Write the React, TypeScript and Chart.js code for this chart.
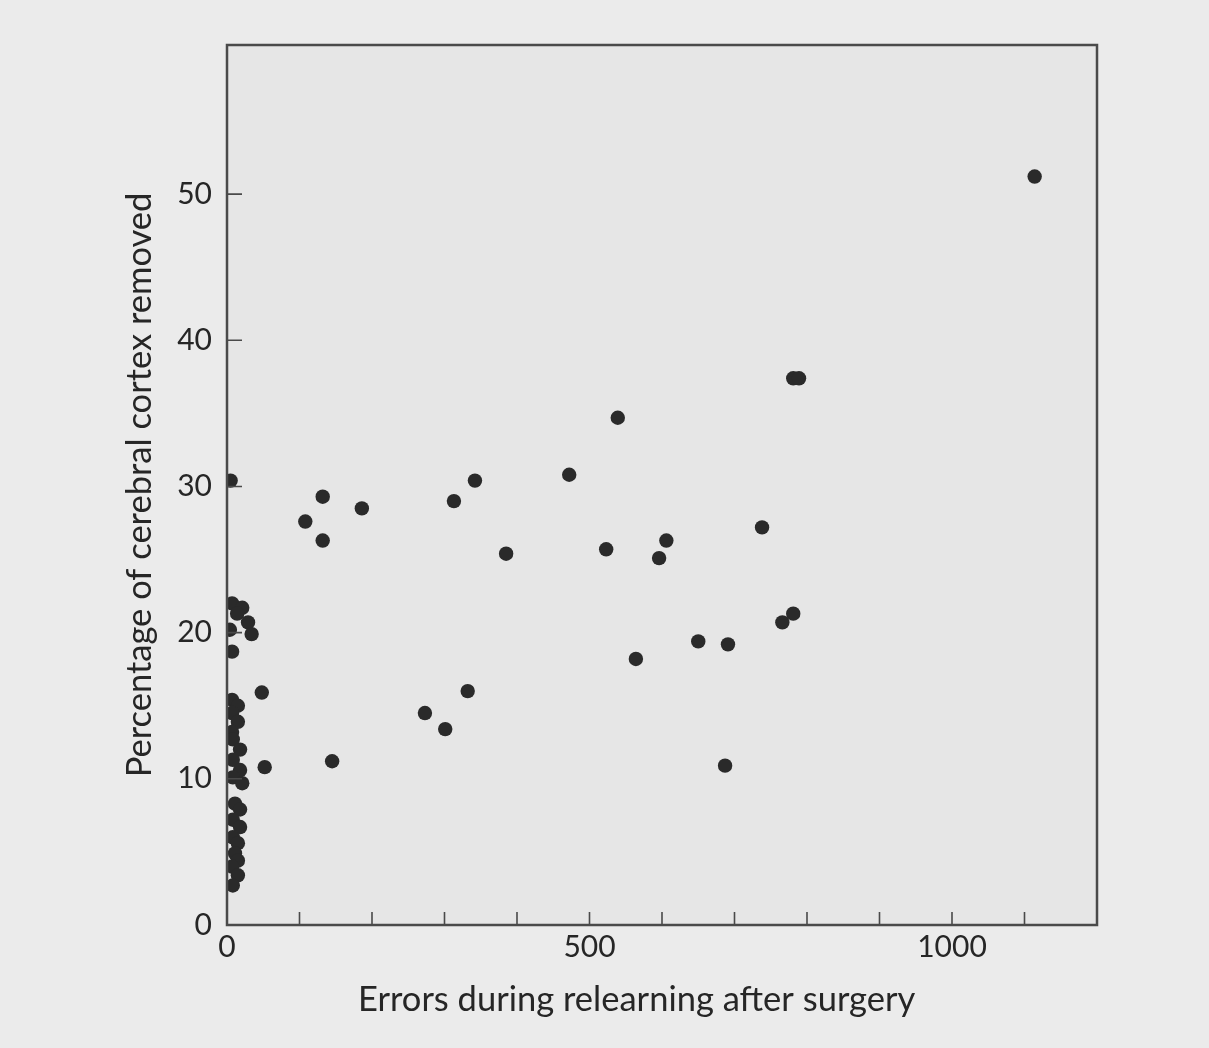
import React, { useEffect, useRef } from "react";
import { Chart, registerables } from "chart.js";

Chart.register(...registerables);

// Errors during relearning after surgery (x) and % of cortex removed (y)
const ERRORS: number[] = [
  7, 21, 14, 29, 34, 4, 7, 7, 15, 7, 15, 7, 8, 18, 8, 18, 8, 21, 11, 18, 8, 18, 8, 15, 11, 15, 7, 15, 8, 5,
  48, 52, 108, 132, 132, 145, 186, 273, 301, 313, 332, 342, 385, 472, 523, 539, 564, 596, 606, 650, 687, 691,
  738, 766, 781, 781, 789, 1114,
];
const PERCENT_REMOVED: number[] = [
  22.0, 21.7, 21.3, 20.7, 19.9, 20.2, 18.7, 15.4, 15.0, 14.5, 13.9, 13.2, 12.7, 12.0, 11.3, 10.6, 10.1, 9.7,
  8.3, 7.9, 7.2, 6.7, 6.0, 5.6, 4.9, 4.4, 4.0, 3.4, 2.7, 30.4,
  15.9, 10.8, 27.6, 29.3, 26.3, 11.2, 28.5, 14.5, 13.4, 29.0, 16.0, 30.4, 25.4, 30.8, 25.7, 34.7, 18.2, 25.1,
  26.3, 19.4, 10.9, 19.2, 27.2, 20.7, 21.3, 37.4, 37.4, 51.2,
];

const X_MIN = 0;
const X_MAX = 1200;
const Y_MIN = 0;
const Y_MAX = 60.2;
const X_LABEL_TICKS = [0, 500, 1000];
const X_MARK_TICKS = [100, 200, 300, 400, 500, 600, 700, 800, 900, 1000, 1100];
const Y_LABEL_TICKS = [0, 10, 20, 30, 40, 50];
const Y_MARK_TICKS = [10, 20, 30, 40, 50];

const X_TITLE = "Errors during relearning after surgery";
const Y_TITLE = "Percentage of cerebral cortex removed";

const FONT = "Lato, 'Open Sans', sans-serif";
const INK = "#262626";
const TITLE_SIZE = 34.5;

const boxPlugin = {
  id: "boxAndTicks",
  beforeDraw(chart: any) {
    const { ctx, chartArea } = chart;
    ctx.save();
    ctx.fillStyle = "#e6e6e6";
    ctx.fillRect(chartArea.left, chartArea.top, chartArea.right - chartArea.left, chartArea.bottom - chartArea.top);
    ctx.restore();
  },
  afterDatasetsDraw(chart: any) {
    const { ctx, chartArea, scales } = chart;
    const { left, right, top, bottom } = chartArea;
    ctx.save();
    ctx.strokeStyle = "#4a4a4a";
    ctx.lineWidth = 1.6;
    ctx.beginPath();
    for (const v of X_MARK_TICKS) {
      const px = scales.x.getPixelForValue(v);
      ctx.moveTo(px, bottom);
      ctx.lineTo(px, bottom - 13);
    }
    for (const v of Y_MARK_TICKS) {
      const py = scales.y.getPixelForValue(v);
      ctx.moveTo(left, py);
      ctx.lineTo(left + 15, py);
    }
    ctx.stroke();
    ctx.lineWidth = 2.5;
    ctx.strokeRect(left, top, right - left, bottom - top);
    ctx.restore();
  },
  afterDraw(chart: any) {
    const { ctx, scales } = chart;
    ctx.save();
    ctx.fillStyle = INK;
    ctx.font = `${TITLE_SIZE}px ${FONT}`;
    ctx.textAlign = "center";
    ctx.textBaseline = "middle";
    ctx.fillText(X_TITLE, scales.x.getPixelForValue(565), 1000);
    ctx.restore();
  },
};

export default function App() {
  const ref = useRef<HTMLCanvasElement | null>(null);

  useEffect(() => {
    if (!ref.current) return;
    const points = ERRORS.map((x, i) => ({ x, y: PERCENT_REMOVED[i] }));
    const chart = new Chart(ref.current, {
      type: "scatter",
      data: {
        datasets: [
          {
            data: points,
            backgroundColor: "#2a2a2a",
            borderColor: "#2a2a2a",
            borderWidth: 0,
            pointRadius: 7.2,
            pointHoverRadius: 7.2,
          },
        ],
      },
      plugins: [boxPlugin],
      options: {
        animation: false,
        responsive: true,
        maintainAspectRatio: false,
        layout: { padding: { left: 0, right: 112, top: 45, bottom: 0 } },
        plugins: { legend: { display: false }, tooltip: { enabled: false } },
        scales: {
          x: {
            type: "linear",
            min: X_MIN,
            max: X_MAX,
            afterFit: (s: any) => {
              s.height = 123;
            },
            afterBuildTicks: (s: any) => {
              s.ticks = X_LABEL_TICKS.map((value) => ({ value }));
            },
            grid: { display: false, drawTicks: false },
            border: { display: false },
            ticks: {
              padding: 4,
              color: INK,
              font: { family: FONT, size: 30 },
              callback: (v: any) => String(v),
            },
            title: { display: false, text: X_TITLE },
          },
          y: {
            type: "linear",
            min: Y_MIN,
            max: Y_MAX,
            afterFit: (s: any) => {
              s.width = 227;
            },
            afterBuildTicks: (s: any) => {
              s.ticks = Y_LABEL_TICKS.map((value) => ({ value }));
            },
            grid: { display: false, drawTicks: false },
            border: { display: false },
            ticks: {
              padding: 15,
              color: INK,
              font: { family: FONT, size: 30 },
              callback: (v: any) => String(v),
            },
            title: {
              display: true,
              text: Y_TITLE,
              color: INK,
              font: { family: FONT, size: TITLE_SIZE },
              padding: { top: 119, bottom: 0 },
            },
          },
        },
      },
    });
    return () => chart.destroy();
  }, []);

  return (
    <div
      style={{
        position: "fixed",
        left: 0,
        top: 0,
        width: 1209,
        height: 1048,
        background: "#ebebeb",
      }}
    >
      <canvas ref={ref} />
    </div>
  );
}
